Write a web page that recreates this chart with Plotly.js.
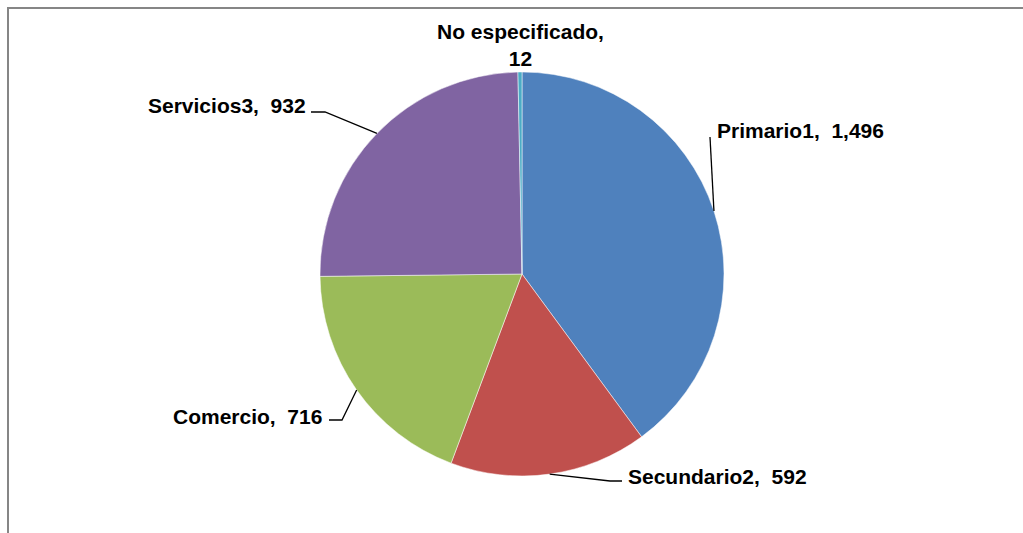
<!DOCTYPE html>
<html>
<head>
<meta charset="utf-8">
<script src="https://cdn.plot.ly/plotly-3.0.1.min.js"></script>
<style>
  html, body { margin: 0; padding: 0; background: #fff; overflow: hidden; }
  #chart { width: 1023px; height: 533px; }
</style>
</head>
<body>
<div id="chart"></div>
<script>
// datos del gráfico
const categories = ['Primario1', 'Secundario2', 'Comercio', 'Servicios3', 'No especificado'];
const values = [1496, 592, 716, 932, 12];
const sliceColors = ['#4F81BD', '#C0504D', '#9BBB59', '#8064A2', '#4BACC6'];

const W = 1023, H = 533;
const cx = 522, cy = 274, R = 202;

// pixel -> paper
const px = x => x / W;
const py = y => 1 - y / H;

const fmt = v => v.toLocaleString('en-US');

// punto en el borde del sector (ángulo medio, sentido horario desde las 12)
function edgePoint(i) {
    const total = values.reduce((a, b) => a + b, 0);
    let before = 0;
    for (let k = 0; k < i; k++) before += values[k];
    const ang = (before + values[i] / 2) / total * 2 * Math.PI;
    return [cx + R * Math.sin(ang), cy - R * Math.cos(ang)];
}

// posición de etiquetas y codo de la línea guía
const labelSpots = [
    { x: 715, y: 130, xanchor: 'left', elbow: [[710, 137]] },
    { x: 626, y: 476, xanchor: 'left', elbow: [[610, 481], [622, 481]] },
    { x: 324, y: 416, xanchor: 'right', elbow: [[342, 420], [329, 420]] },
    { x: 308, y: 105, xanchor: 'right', elbow: [[325, 112], [311, 112]] },
    { x: 520, y: 45, xanchor: 'center', elbow: [] }
];

const annotations = categories.map((c, i) => {
    const s = labelSpots[i];
    const txt = i === 4 ? c + ',<br>' + fmt(values[i]) : c + ',  ' + fmt(values[i]);
    return {
        xref: 'paper', yref: 'paper',
        x: px(s.x), y: py(s.y),
        xanchor: s.xanchor, yanchor: 'middle',
        text: '<b>' + txt + '</b>',
        showarrow: false,
        font: { family: 'Liberation Sans, Arial, sans-serif', size: 21, color: '#000' }
    };
});

const shapes = [];
categories.forEach((c, i) => {
    const s = labelSpots[i];
    if (!s.elbow.length) return;
    const pts = [edgePoint(i)].concat(s.elbow);
    const d = pts.map((p, k) => (k ? 'L' : 'M') + px(p[0]) + ',' + py(p[1])).join(' ');
    shapes.push({
        type: 'path', xref: 'paper', yref: 'paper', path: d,
        line: { color: '#000', width: 1.3 }
    });
});

// marco del área del gráfico
shapes.push({
    type: 'rect', xref: 'paper', yref: 'paper',
    x0: px(8), x1: 1.2, y0: -0.2, y1: py(8),
    line: { color: '#868686', width: 2 }
});

const trace = {
    type: 'pie',
    labels: categories,
    values: values,
    sort: false,
    direction: 'clockwise',
    rotation: 0,
    textinfo: 'none',
    hoverinfo: 'label+value',
    marker: { colors: sliceColors, line: { color: '#ffffff', width: 0.5 } },
    domain: { x: [px(cx - R), px(cx + R)], y: [py(cy + R), py(cy - R)] }
};

const layout = {
    width: W, height: H,
    margin: { t: 0, l: 0, r: 0, b: 0 },
    showlegend: false,
    paper_bgcolor: '#ffffff',
    annotations: annotations,
    shapes: shapes
};

Plotly.newPlot('chart', [trace], layout, { staticPlot: true });
</script>
</body>
</html>
